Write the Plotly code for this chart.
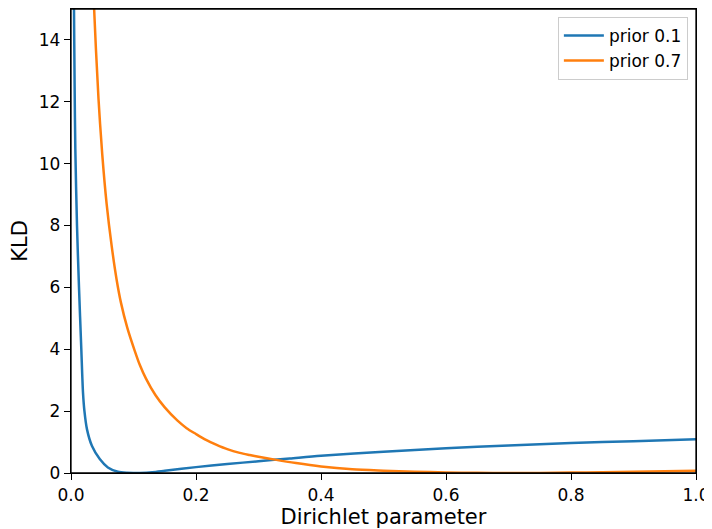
import plotly.graph_objects as go

# prior 0.1 (blue)
x_p01 = [0.003, 0.0048, 0.0058, 0.0069, 0.0096, 0.0128, 0.0165, 0.0192, 0.0215,
         0.0256, 0.0336, 0.046, 0.059, 0.075, 0.09, 0.1, 0.11, 0.13, 0.15, 0.2, 0.25,
         0.3, 0.35, 0.4, 0.5, 0.6, 0.7, 0.8, 0.9, 1.0]
y_p01 = [20.0, 15.0, 12.5, 10.5, 8.0, 6.0, 4.0, 2.6, 2.0,
         1.41, 0.87, 0.45, 0.18, 0.04, 0.005, 0.0, 0.003, 0.025, 0.07, 0.19, 0.29,
         0.38, 0.47, 0.56, 0.69, 0.80, 0.89, 0.97, 1.03, 1.09]

# prior 0.7 (orange)
x_p07 = [0.03, 0.037, 0.044, 0.05, 0.057, 0.065, 0.073, 0.08, 0.09, 0.102, 0.11, 0.12,
         0.135, 0.15, 0.17, 0.185, 0.2, 0.216, 0.233, 0.25, 0.27, 0.286, 0.3, 0.324,
         0.36, 0.4, 0.45, 0.5, 0.55, 0.6, 0.65, 0.7, 0.75, 0.8, 0.85, 0.9, 0.95, 1.0]
y_p07 = [19.5, 15.0, 12.1, 10.3, 8.7, 7.35, 6.25, 5.5, 4.7, 3.95, 3.5, 3.05,
         2.52, 2.12, 1.7, 1.45, 1.26, 1.07, 0.91, 0.77, 0.65, 0.582, 0.527, 0.44,
         0.32, 0.21, 0.12, 0.075, 0.04, 0.02, 0.005, 0.0, 0.004, 0.013, 0.025, 0.04, 0.055, 0.07]

x_ticks = [0.0, 0.2, 0.4, 0.6, 0.8, 1.0]
y_ticks = [0, 2, 4, 6, 8, 10, 12, 14]

font = "DejaVu Sans"

fig = go.Figure()
fig.add_trace(go.Scatter(x=x_p01, y=y_p01, mode="lines", name="prior 0.1",
                         line=dict(color="#1f77b4", width=2.5, shape="spline", smoothing=0.8)))
fig.add_trace(go.Scatter(x=x_p07, y=y_p07, mode="lines", name="prior 0.7",
                         line=dict(color="#ff7f0e", width=2.5, shape="spline", smoothing=0.8)))

axis_common = dict(showgrid=False, zeroline=False, showline=True, linecolor="black",
                   linewidth=1.3, mirror=True, ticks="outside", ticklen=6, tickwidth=1.3,
                   tickcolor="black", tickfont=dict(family=font, size=17, color="black"))

fig.update_layout(
    width=704, height=521,
    margin=dict(l=63, r=16, t=1, b=56),
    paper_bgcolor="white", plot_bgcolor="white",
    font=dict(family=font, color="black"),
    xaxis=dict(range=[0, 1], tickvals=x_ticks, ticktext=[f"{v:.1f}" for v in x_ticks],
               title=dict(text="Dirichlet parameter", font=dict(family=font, size=21), standoff=3),
               **axis_common),
    yaxis=dict(range=[0, 15], tickvals=y_ticks,
               title=dict(text="KLD", font=dict(family=font, size=21), standoff=9),
               **axis_common),
    legend=dict(x=0.987, y=0.983, xanchor="right", yanchor="top", itemwidth=40,
                bgcolor="rgba(255,255,255,0.8)", bordercolor="#cccccc", borderwidth=1,
                font=dict(family=font, size=17, color="black")),
    showlegend=True,
    shapes=[dict(type="rect", xref="paper", yref="paper", x0=0, x1=1, y0=0, y1=1,
                 line=dict(color="black", width=1.3), layer="above")],
)

fig.write_html("out.html")
